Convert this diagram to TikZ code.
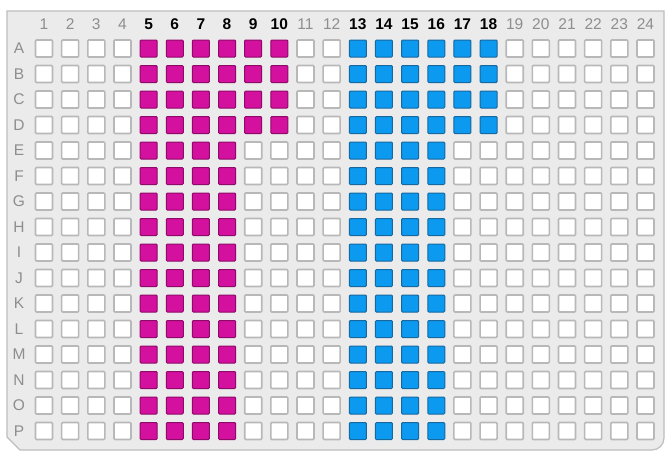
\documentclass[tikz,border=0pt]{standalone}
\usepackage{fontspec}
\setmainfont{Liberation Sans}
\definecolor{platefill}{HTML}{EBEBEB}
\definecolor{plateedge}{HTML}{BDBDBD}
\definecolor{welledge}{HTML}{B8B8B8}
\definecolor{magfill}{HTML}{D4109E}
\definecolor{magedge}{HTML}{8E0A68}
\definecolor{bluefill}{HTML}{0B9AF0}
\definecolor{blueedge}{HTML}{1868A0}
\definecolor{labgray}{HTML}{8E8E8E}
\begin{document}
\begin{tikzpicture}[x=1pt,y=-1pt,
  well/.style={draw=welledge,fill=white,line width=1.6pt,minimum size=17pt,inner sep=0pt,rounded corners=1pt},
  magwell/.style={well,draw=magedge,fill=magfill,line width=1pt},
  bluewell/.style={well,draw=blueedge,fill=bluefill,line width=1pt},
  collab/.style={font=\fontsize{15.5}{15.5}\selectfont,text=labgray,inner sep=0pt},
  collabb/.style={font=\fontsize{15.5}{15.5}\selectfont\bfseries,text=black,inner sep=0pt},
  rowlab/.style={font=\fontsize{15.5}{15.5}\selectfont,text=labgray,inner sep=0pt}]
\useasboundingbox (0,0) rectangle (666,453);
\fill[white] (0,0) rectangle (666,453);
\draw[plateedge,fill=platefill,line width=1.2pt]
  (7,11) -- (664,11) -- (664,438) arc[start angle=0,end angle=90,radius=12] -- (20,450) -- (7,437) -- cycle;
\foreach \c in {1,...,24}{
  \pgfmathsetmacro{\xx}{44+(\c-1)*26.15}
  \pgfmathtruncatemacro{\isb}{(\c>=5 && \c<=10) || (\c>=13 && \c<=18) ? 1 : 0}
  \ifnum\isb=1
    \node[collabb] (col\c) at (\xx,24) {\c};
  \else
    \node[collab] (col\c) at (\xx,24) {\c};
  \fi
}
\foreach \r/\L in {1/A,2/B,3/C,4/D,5/E,6/F,7/G,8/H,9/I,10/J,11/K,12/L,13/M,14/N,15/O,16/P}{
  \pgfmathsetmacro{\yy}{48.5+(\r-1)*25.5}
  \node[rowlab] (row\L) at (19,\yy) {\L};
  \foreach \c in {1,...,24}{
    \pgfmathsetmacro{\xx}{44+(\c-1)*26.15}
    \pgfmathtruncatemacro{\ismag}{(\c>=5 && \c<=8) || (\c>=9 && \c<=10 && \r<=4) ? 1 : 0}
    \pgfmathtruncatemacro{\isblue}{(\c>=13 && \c<=16) || (\c>=17 && \c<=18 && \r<=4) ? 1 : 0}
    \ifnum\ismag=1
      \node[magwell] (w\L\c) at (\xx,\yy) {};
    \else\ifnum\isblue=1
      \node[bluewell] (w\L\c) at (\xx,\yy) {};
    \else
      \node[well] (w\L\c) at (\xx,\yy) {};
    \fi\fi
  }
}
\end{tikzpicture}
\end{document}
